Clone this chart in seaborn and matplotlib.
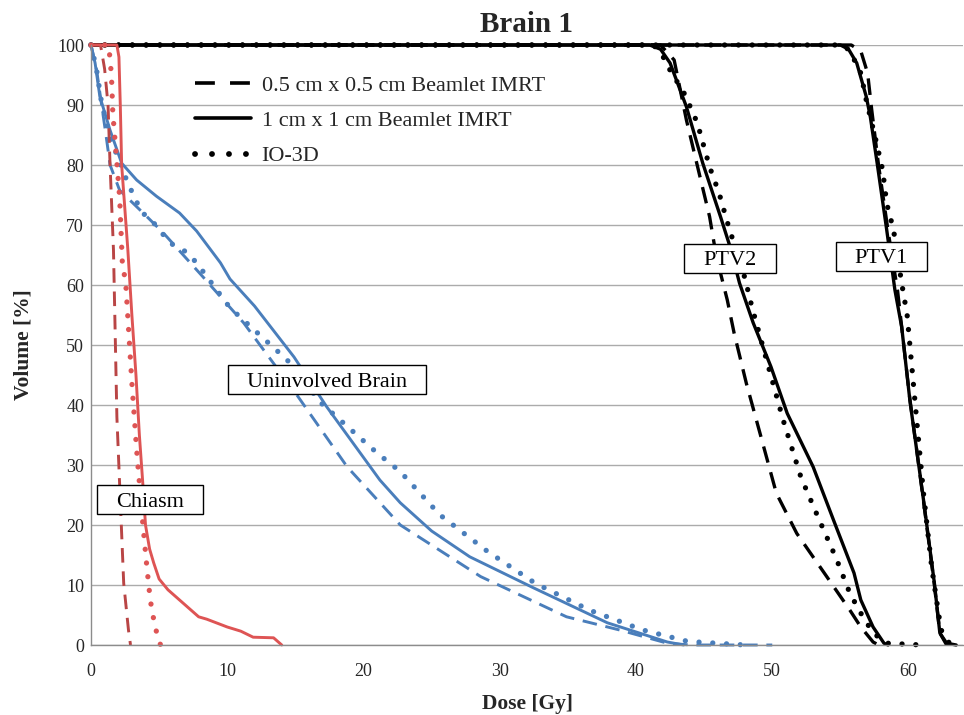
import matplotlib
matplotlib.use("Agg")
import matplotlib.pyplot as plt
from matplotlib.lines import Line2D
from matplotlib.patches import Rectangle
from matplotlib.transforms import offset_copy, IdentityTransform
import seaborn as sns

# ---------------- data (dose in Gy, volume in %) ----------------
ptv1_05_dose = [0, 55.8, 56.5, 57.0, 57.3, 57.8, 58.5, 59.2, 60.1, 61.1, 61.9, 62.3, 62.8]
ptv1_05_vol = [100, 100, 99, 95.3, 89.2, 80, 69, 59, 41, 24, 10, 2, 0]
ptv1_1_dose = [0, 55.0, 55.6, 56.2, 56.9, 57.2, 57.7, 58.4, 59.0, 59.5, 60.1, 61.1, 61.9, 62.3, 62.8, 63.5]
ptv1_1_vol = [100, 100, 99.3, 97, 91.4, 88, 80.3, 69.2, 59.2, 53, 40.8, 24.2, 10.3, 2, 0.3, 0]
ptv1_io_dose = [0, 55.2, 55.7, 56.5, 56.9, 57.6, 58.1, 58.4, 58.9, 59.5, 59.9, 60.6, 61.1, 61.7, 62.2, 62.4, 63.0, 63.4]
ptv1_io_vol = [100, 100, 99, 95.3, 90.8, 84.2, 79.2, 73.6, 69.2, 60.3, 55, 37.5, 25.3, 13, 5.3, 2.5, 0.3, 0]

ptv2_05_dose = [0, 41.8, 42.8, 43.7, 44.7, 45.4, 45.9, 46.7, 47.2, 48.1, 49.1, 50.3, 51.8, 54.0, 55.7, 56.5, 57.4, 57.8]
ptv2_05_vol = [100, 100, 97.5, 87.5, 78, 71.4, 64.7, 57.5, 52, 43.6, 35.3, 25.3, 18.6, 11.4, 5.8, 3, 0.5, 0]
ptv2_1_dose = [0, 41.0, 41.8, 42.5, 43.7, 44.9, 46.2, 46.9, 47.6, 48.6, 49.9, 51.1, 53.0, 54.5, 56.0, 56.5, 57.4, 58.2, 58.5]
ptv2_1_vol = [100, 100, 99.3, 97, 89.7, 80.3, 71.4, 66.4, 60.3, 53.7, 46.4, 38.6, 29.7, 20.8, 12, 7.5, 3, 0.3, 0]
ptv2_io_dose = [0, 41.3, 42.0, 42.5, 43.6, 44.5, 45.4, 46.1, 46.7, 47.0, 48.0, 48.5, 50.8, 52.1, 53.4, 54.7, 55.7, 56.5, 57.4, 58.4, 61.0]
ptv2_io_vol = [100, 100, 98, 95.8, 91.7, 87, 79.7, 75.3, 70.5, 68.3, 61.1, 56.4, 37.5, 28, 21.1, 14.4, 8.6, 5.3, 2, 0.3, 0]

brain_05_dose = [0, 0.4, 0.8, 1.1, 1.4, 2.1, 4.1, 5.3, 8.2, 11.2, 15.1, 18.8, 22.7, 28.6, 34.9, 38.8, 42.3, 44.0, 50.0]
brain_05_vol = [100, 96, 89.7, 85.0, 80, 75.8, 71.4, 68.7, 61.4, 53.7, 41.7, 29.7, 20, 11.4, 4.7, 2.5, 0.3, 0, 0]
brain_1_dose = [0, 0.3, 0.65, 1.4, 2.25, 3.35, 4.8, 6.5, 7.75, 9.5, 10.2, 12.0, 14.9, 17.3, 21.2, 22.7, 25.0, 27.8, 32.5, 37.9, 42.3, 43.5]
brain_1_vol = [100, 97, 91.4, 85.8, 80.3, 77.5, 74.8, 72, 69, 63.7, 61, 56.5, 48, 39.7, 27.5, 23.7, 19.0, 14.7, 9.5, 3.7, 0.5, 0]
brain_io_dose = [0, 0.4, 0.8, 1.5, 2.7, 3.7, 4.55, 5.8, 7.0, 7.75, 10.2, 14.4, 16.9, 21.0, 22.7, 25.6, 29.1, 32.6, 36.6, 40.5, 43.8, 45.9, 48.0]
brain_io_vol = [100, 96, 90, 84, 77, 72.2, 70.5, 67, 65.5, 63.7, 56.2, 47.5, 40.3, 32, 28.9, 21.7, 15.6, 10.3, 5.8, 2.5, 0.6, 0.3, 0]

chiasm_05_dose = [0, 0.7, 1.0, 1.25, 1.4, 1.65, 1.9, 2.2, 2.4, 2.75, 2.9]
chiasm_05_vol = [100, 100, 96, 90, 80, 65.8, 38, 21.3, 10.3, 2.5, 0]
chiasm_1_dose = [0, 1.9, 2.05, 2.15, 2.25, 2.7, 3.0, 3.3, 3.55, 3.8, 4.0, 4.3, 4.6, 5.0, 5.65, 6.75, 7.9, 8.5, 10.0, 11.0, 11.9, 13.4, 14.0]
chiasm_1_vol = [100, 100, 98, 90, 80, 66, 55, 45, 35, 27, 20, 16, 13.7, 11, 9.2, 7, 4.7, 4.3, 3, 2.3, 1.3, 1.2, 0]
chiasm_io_dose = [0, 1.3, 1.5, 1.6, 2.1, 2.3, 2.55, 3.0, 3.35, 3.8, 4.1, 4.35, 4.7, 5.0, 5.1]
chiasm_io_vol = [100, 100, 95, 88.7, 74.7, 63.7, 60.3, 43.7, 32.5, 20.3, 13, 7.5, 3, 0.8, 0]

legend_labels = ["0.5 cm x 0.5 cm Beamlet IMRT", "1 cm x 1 cm Beamlet IMRT", "IO-3D"]
region_labels = ["PTV2", "PTV1", "Uninvolved Brain", "Chiasm"]
region_pos = [(46.9, 64.5), (58.0, 64.8), (17.3, 44.2), (4.3, 24.2)]

# ---------------- style ----------------
sns.set_style("white")
plt.rcParams["font.family"] = ["Liberation Serif", "DejaVu Serif"]

BLACK = "#000000"
BLUE = "#4A7EBB"
RED = "#DE5454"
RED_DARK = "#B94545"

DASH = (0, (5, 3))
DOT = (0, (0.01, 2.6))

fig = plt.figure(figsize=(9.64, 7.15), dpi=100)
ax = fig.add_axes([91 / 964, 70 / 715, 872 / 964, 600 / 715])


def draw(x, y, color, style, lw):
    kw = dict(x=x, y=y, ax=ax, color=color, linewidth=lw, sort=False,
              estimator=None, linestyle=style, clip_on=False)
    if style == DOT:
        kw["dash_capstyle"] = "round"
    sns.lineplot(**kw)


# PTVs (black)
draw(ptv1_05_dose, ptv1_05_vol, BLACK, DASH, 2.4)
draw(ptv2_05_dose, ptv2_05_vol, BLACK, DASH, 2.4)
draw(ptv1_io_dose, ptv1_io_vol, BLACK, DOT, 3.8)
draw(ptv2_io_dose, ptv2_io_vol, BLACK, DOT, 3.8)
draw(ptv1_1_dose, ptv1_1_vol, BLACK, "-", 2.4)
draw(ptv2_1_dose, ptv2_1_vol, BLACK, "-", 2.4)

# Uninvolved brain (blue)
draw(brain_05_dose, brain_05_vol, BLUE, DASH, 2.1)
draw(brain_io_dose, brain_io_vol, BLUE, DOT, 3.8)
draw(brain_1_dose, brain_1_vol, BLUE, "-", 2.1)

# Chiasm (red)
draw(chiasm_05_dose, chiasm_05_vol, RED_DARK, DASH, 2.1)
draw(chiasm_io_dose, chiasm_io_vol, RED, DOT, 3.8)
draw(chiasm_1_dose, chiasm_1_vol, RED, "-", 2.1)

# ---------------- axes ----------------
ax.set_xlim(0, 64)
ax.set_ylim(0, 100)
ax.set_xticks(range(0, 61, 10))
ax.set_yticks(range(0, 101, 10))
ax.yaxis.grid(True, color="#ABABAB", linewidth=1)
ax.xaxis.grid(False)
ax.set_axisbelow(True)
for side in ["top", "right"]:
    ax.spines[side].set_visible(False)
for side in ["left", "bottom"]:
    ax.spines[side].set_color("#8C8C8C")
    ax.spines[side].set_linewidth(1)
ax.tick_params(axis="both", which="both", direction="out", length=4,
               color="#8C8C8C", labelsize=13)
ax.tick_params(axis="y", pad=1)
ax.tick_params(axis="x", pad=9)

ax.set_xlabel("Dose [Gy]", fontsize=15.5, fontweight="bold", labelpad=10)
ax.set_ylabel("Volume [%]", fontsize=15.5, fontweight="bold", labelpad=17)
ax.set_title("Brain 1", fontsize=21, fontweight="bold", pad=9)

# ---------------- legend ----------------
handles = [
    Line2D([], [], color=BLACK, linewidth=2.6, linestyle=(0, (5.5, 4.2))),
    Line2D([], [], color=BLACK, linewidth=2.6, linestyle="-"),
    Line2D([], [], color=BLACK, linewidth=4.2, linestyle=(0, (0.01, 2.9)),
           dash_capstyle="round"),
]
ax.legend(handles, legend_labels, loc="upper left", frameon=False,
          bbox_to_anchor=((195 - 91) / 872, (645 - 75) / 600),
          borderpad=0, borderaxespad=0, handlelength=2.5, handletextpad=0.5,
          labelspacing=0.67, fontsize=16)

# ---------------- region labels (boxed) ----------------
label_tr = offset_copy(ax.transData, fig=fig, x=0, y=-7, units="dots")
texts = []
for text, (x, y) in zip(region_labels, region_pos):
    t = ax.text(x, y, text, ha="center", va="baseline", fontsize=16,
                zorder=11, color="black", transform=label_tr)
    texts.append(t)

fig.canvas.draw()
renderer = fig.canvas.get_renderer()
BOX_H = 29
PAD_X = 19
for t, (x, y) in zip(texts, region_pos):
    bb = t.get_window_extent(renderer=renderer)
    cx, cy = ax.transData.transform((x, y))
    w = bb.width + 2 * PAD_X
    rect = Rectangle((cx - w / 2, cy - BOX_H / 2), w, BOX_H,
                     transform=IdentityTransform(), facecolor="white",
                     edgecolor="black", linewidth=1, zorder=10)
    ax.add_artist(rect)

fig.savefig("out.png", dpi=100)
